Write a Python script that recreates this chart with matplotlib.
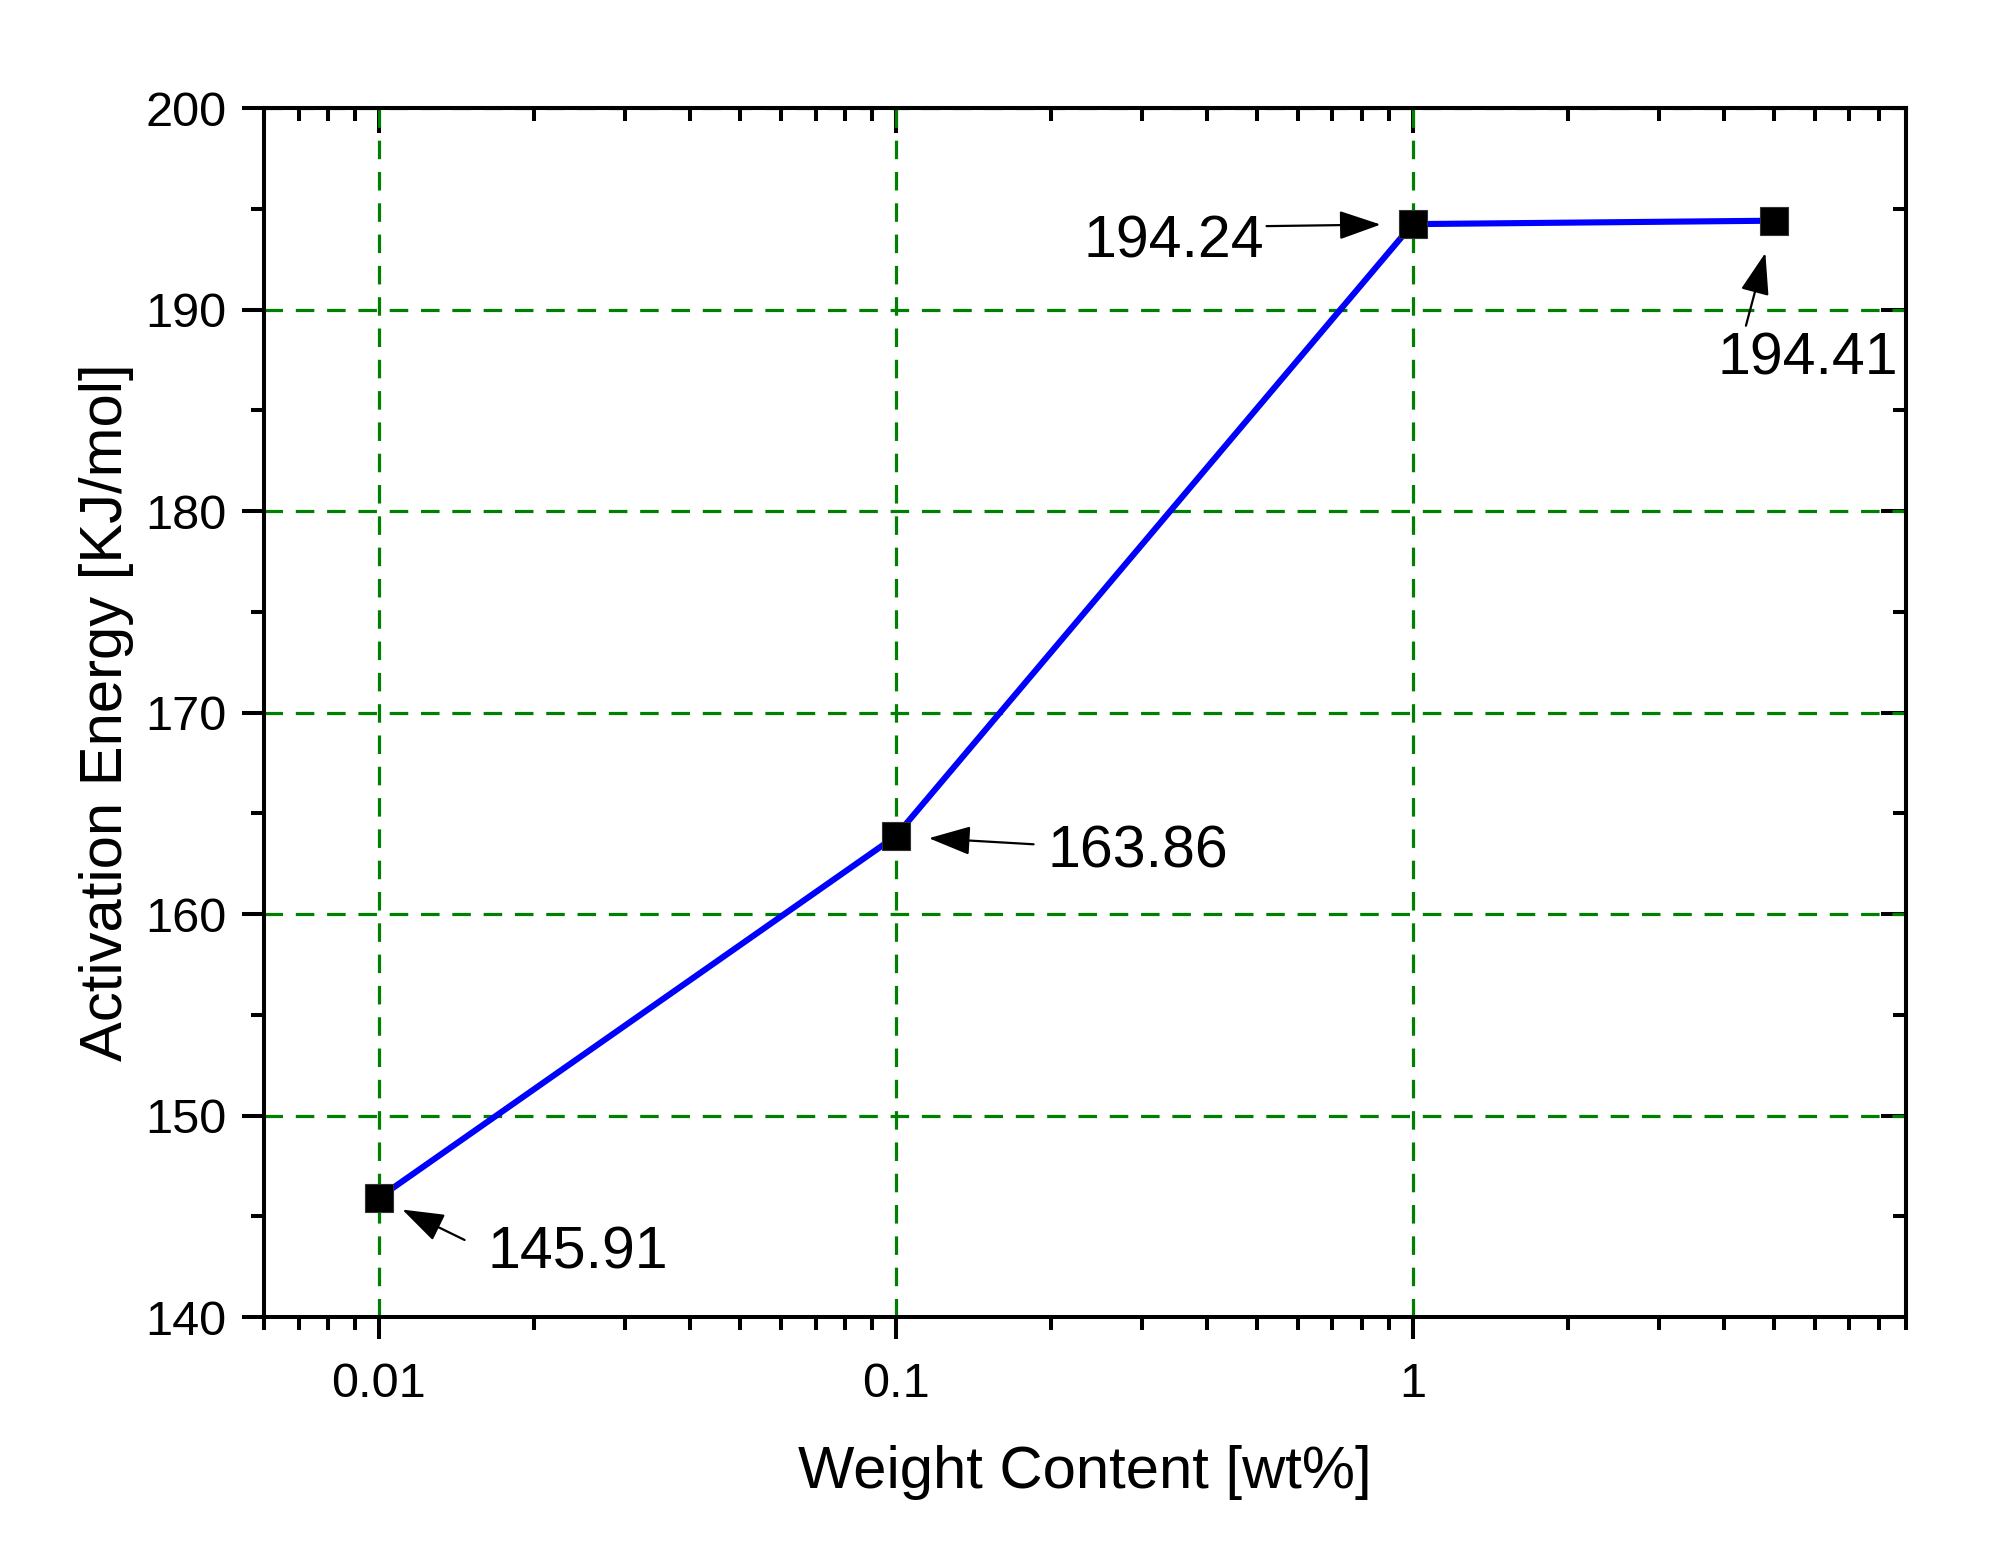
import numpy as np
import matplotlib
matplotlib.use('Agg')
import matplotlib.pyplot as plt
from matplotlib.ticker import MultipleLocator, LogLocator, FixedLocator, FuncFormatter, NullFormatter

plt.rcParams['font.family'] = ['Liberation Sans', 'DejaVu Sans']

# data
weight = [0.01, 0.1, 1, 5]
energy = [145.91, 163.86, 194.24, 194.41]
labels = ['145.91', '163.86', '194.24', '194.41']

fig = plt.figure(figsize=(20.13, 15.57), dpi=100)
ax = fig.add_axes([0.1311, 0.1541, 0.8157, 0.7765])

ax.plot(weight, energy, color='#0000ff', lw=4.4, zorder=3, solid_capstyle='round')
ax.plot(weight, energy, ls='none', marker='s', ms=20.5, mfc='black', mec='#333333', mew=0.8, zorder=4)

ax.set_xscale('log')
ax.set_xlim(0.006, 9)
ax.set_ylim(140, 200)

ax.xaxis.set_major_locator(FixedLocator([0.01, 0.1, 1]))
ax.xaxis.set_major_formatter(FuncFormatter(lambda v, p: {0.01: '0.01', 0.1: '0.1', 1: '1'}.get(round(v, 3), '')))
ax.xaxis.set_minor_locator(LogLocator(base=10, subs=np.arange(2, 10)))
ax.xaxis.set_minor_formatter(NullFormatter())
ax.yaxis.set_major_locator(MultipleLocator(10))
ax.yaxis.set_minor_locator(MultipleLocator(5))

# grid
ax.grid(True, which='major', color='#008000', lw=2.3, ls=(0, (5.8, 4.0)), zorder=1)

for s in ax.spines.values():
    s.set_linewidth(2.9)

ax.tick_params(which='both', bottom=True, left=True, top=False, right=False, direction='out', width=2.9)
ax.tick_params(which='major', length=16, labelsize=35, pad=16)
ax.tick_params(which='minor', length=9.5)
ax.tick_params(axis='y', which='major', pad=11)

# inward ticks on top and right
ax_t = ax.secondary_xaxis('top')
ax_t.set_xscale('log')
ax_t.xaxis.set_major_locator(FixedLocator([0.01, 0.1, 1]))
ax_t.xaxis.set_minor_locator(LogLocator(base=10, subs=np.arange(2, 10)))
ax_t.tick_params(which='both', direction='in', width=2.9, labeltop=False)
ax_t.tick_params(which='major', length=18)
ax_t.tick_params(which='minor', length=9.5)
ax_t.xaxis.set_minor_formatter(NullFormatter())
ax_t.spines['top'].set_linewidth(2.9)

ax_r = ax.secondary_yaxis('right')
ax_r.yaxis.set_major_locator(MultipleLocator(10))
ax_r.yaxis.set_minor_locator(MultipleLocator(5))
ax_r.tick_params(which='both', direction='in', width=2.9, labelright=False)
ax_r.tick_params(which='major', length=18)
ax_r.tick_params(which='minor', length=9.5)
ax_r.spines['right'].set_linewidth(2.9)

ax.set_xlabel('Weight Content [wt%]', fontsize=43, labelpad=28)
ax.set_ylabel('Activation Energy [KJ/mol]', fontsize=43, labelpad=8)

# annotations (offsets in points: tail, text, text alignment, arrow gap)
px = 0.72
ann = [
    ((86, -42), (109, -55), 'left', 19),
    ((138, -8), (152, -16), 'left', 24),
    ((-146, -2), (-148, -18), 'right', 23),
    ((-28, -105), (-56, -138), 'left', 24),
]
for (x, y), lab, (tail, txt, ha, gap) in zip(zip(weight, energy), labels, ann):
    ax.annotate('', xy=(x, y), xytext=(tail[0] * px, tail[1] * px), textcoords='offset points',
                arrowprops=dict(arrowstyle='-|>,head_length=1.3,head_width=0.45', mutation_scale=20,
                                color='black', lw=1.6, shrinkA=0, shrinkB=gap),
                zorder=5)
    ax.annotate(lab, xy=(x, y), xytext=(txt[0] * px, txt[1] * px), textcoords='offset points',
                ha=ha, va='center', fontsize=42.5, zorder=5)

fig.savefig('out.png', dpi=100)
